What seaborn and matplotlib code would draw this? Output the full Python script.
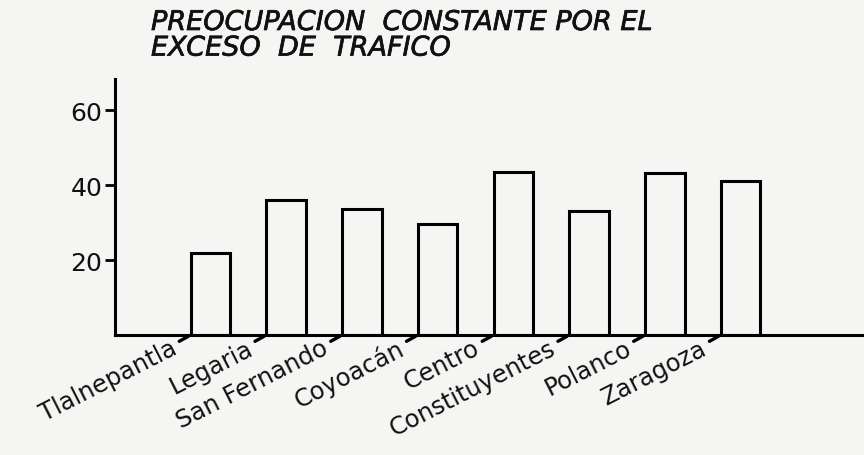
import matplotlib
matplotlib.use("Agg")
import matplotlib.pyplot as plt
import matplotlib.patheffects as pe
import seaborn as sns
import pandas as pd

categories = ["Tlalnepantla", "Legaria", "San Fernando", "Coyoacán", "Centro",
              "Constituyentes", "Polanco", "Zaragoza"]
values = [22, 36, 33.6, 29.5, 43.4, 33.2, 43.2, 41]
yticks = [20, 40, 60]
title_lines = ["PREOCUPACION  CONSTANTE POR EL", "EXCESO  DE  TRAFICO"]

sns.set_theme(style="white")
plt.rcParams['font.family'] = ['DejaVu Sans']
bg = "#f5f5f3"

fig = plt.figure(figsize=(8.64, 4.56), dpi=100, facecolor=bg)
ax = fig.add_axes([115/864, 1-336/456, 1-115/864, (336-80)/456])
ax.set_facecolor(bg)

df = pd.DataFrame({"cat": categories, "val": values})
bw = 0.52
sns.barplot(data=df, x="cat", y="val", ax=ax, color="white", edgecolor="black",
            linewidth=2.2, width=bw, saturation=1)
for p in ax.patches:
    p.set_facecolor(bg)

ax.set_xlim(-1.26, 8.63)
ax.set_ylim(0, 68.3)
ax.set_xlabel("")
ax.set_ylabel("")
ax.set_xticks([])
ax.set_yticks(yticks)
ax.set_yticklabels([str(t) for t in yticks], fontsize=18)
ax.tick_params(axis="y", direction="out", length=7, width=2, color="black", pad=2, left=True,
               labelcolor="#111111")
for s in ["top", "right"]:
    ax.spines[s].set_visible(False)
for s in ["left", "bottom"]:
    ax.spines[s].set_color("black")
    ax.spines[s].set_linewidth(2.2)

for i, lab in enumerate(categories):
    x0 = i - bw/2
    ax.annotate("", xy=(x0, 0), xytext=(-10, -5.5), textcoords="offset points",
                arrowprops=dict(arrowstyle="-", lw=2.4, color="black"),
                annotation_clip=False)
    ax.annotate(lab, xy=(x0, 0), xytext=(-11, -8), textcoords="offset points",
                rotation=27, ha="right", va="center", rotation_mode="anchor",
                fontsize=17.5, color="#111111", annotation_clip=False)

fig.text(151/864, 1-11/456, title_lines[0] + "\n" + title_lines[1], ha="left", va="top",
         fontsize=19.5, style="italic", color="#111111", linespacing=0.98,
         path_effects=[pe.withStroke(linewidth=0.5, foreground="#111111")])

fig.savefig("out.png", dpi=100, facecolor=bg)
